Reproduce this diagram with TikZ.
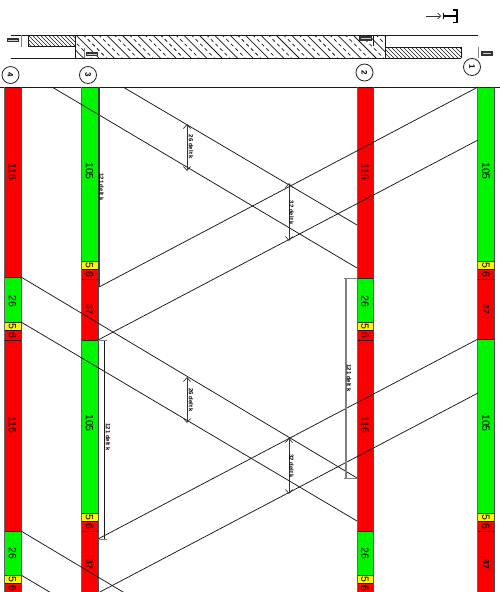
\documentclass[tikz,border=0pt]{standalone}
\usepackage{fontspec}
\setmainfont{Liberation Sans}
\usetikzlibrary{arrows.meta}
\definecolor{segred}{RGB}{250,0,0}
\definecolor{seggreen}{RGB}{0,245,0}
\definecolor{segyellow}{RGB}{250,245,0}
\tikzset{
  num/.style={rotate=-90,inner sep=0pt,font=\fontsize{10.5}{11}\selectfont,text=black},
  smallnum/.style={rotate=-90,inner sep=0pt,font=\fontsize{8.5}{9}\selectfont\bfseries,text=black},
  dimtext/.style={rotate=-90,inner sep=0pt,font=\fontsize{6}{7}\selectfont\bfseries,text=black},
  circ/.style={circle,draw=black!85,line width=0.8pt,minimum size=17pt,inner sep=0pt,rotate=-90,font=\fontsize{8}{9}\selectfont\bfseries},
  tie/.style={draw=black!90,line width=0.75pt},
  dimline/.style={draw=black!80,line width=0.8pt,{Straight Barb[length=4pt,width=7pt,line width=0.7pt]}-{Straight Barb[length=4pt,width=7pt,line width=0.7pt]}},
  extline/.style={draw=black!50,line width=1pt},
  longdim/.style={draw=black!50,line width=1.1pt},
  outline/.style={draw=black!90,line width=0.9pt},
  wide/.style={draw=black!90,line width=0.75pt},
  widedash/.style={draw=black!90,line width=0.75pt,dash pattern=on 3.5pt off 3pt},
  fine/.style={draw=black!90,line width=0.7pt}
}
\newcommand{\seg}[5]{% x1,x2,y1,y2,colour
  \fill[#5] (#1,#3) rectangle (#2,#4);
  \draw[black!75!#5,line width=0.8pt] (#1,#3) -- (#2,#3) (#1,#4) -- (#2,#4);
}
\newcommand{\col}[2]{% side edges
  \draw[black!60,line width=0.9pt] (#1,87) -- (#1,592);
  \draw[black!70,line width=0.9pt] (#2,87) -- (#2,592);
}
\newcommand{\tagbox}[3]{% x1,x2,y centre
  \fill[black!80] (#1,#3-2.2) rectangle (#2,#3+2.2);
  \fill[black!20] (#1+1.5,#3-0.5) rectangle (#2-1.5,#3+0.5);
}
\begin{document}
\begin{tikzpicture}[x=1pt,y=-1pt]
\clip (0,0) rectangle (500,592);
\fill[white] (0,0) rectangle (500,592);

% ---- plan strip
\begin{scope}
  \clip (75.5,35) rectangle (385,58);
  \foreach \i in {0,...,48} {
    \pgfmathsetmacro{\xa}{40+\i*7.7}
    \ifodd\i
      \draw[widedash] (\xa,30) -- ++(35,35);
    \else
      \draw[wide] (\xa,30) -- ++(35,35);
    \fi
  }
\end{scope}
\begin{scope}
  \clip (28,35) rectangle (75.5,46.5);
  \foreach \i in {0,...,18} { \draw[fine] (15+\i*4,30) -- ++(20,20); }
\end{scope}
\begin{scope}
  \clip (385,47) rectangle (461,58);
  \foreach \i in {0,...,25} { \draw[fine] (370+\i*4,42) -- ++(20,20); }
\end{scope}
\draw[outline] (11,35) -- (478,35);
\draw[outline] (11,58) -- (461,58);
\draw[outline] (28,35) -- (28,46.5) -- (75.5,46.5);
\draw[outline] (385,47) -- (461,47) -- (461,58);
\draw[outline] (75.5,35) -- (75.5,58);
\draw[outline] (385,35) -- (385,58);
\draw[extline] (21,35) -- (21,47);
\draw[extline] (84,48) -- (84,58);
\draw[outline] (373,35) -- (373,46);
\draw[extline] (478,47) -- (478,58);
\tagbox{6.5}{19}{40}
\tagbox{85.5}{98}{54}
\tagbox{359}{372}{38.5}
\tagbox{481}{492.5}{53.5}

% section mark
\coordinate (secA) at (426,16);
\coordinate (secB) at (441,16);
\coordinate (secC) at (443,16);
\coordinate (secD) at (457,16);
\draw[black!80,line width=0.7pt,-{Straight Barb[length=3pt,width=6pt]}] (secA) -- (secB);
\draw[black,line width=1.5pt] (secC) -- (secD);
\draw[black,line width=0.7pt] (443,13) -- (443,19);
\draw[black,line width=1.1pt] (453,10) -- (457,10) -- (457,22.5) -- (453,22.5);

% ---- circles
\node[circ] (c4) at (10.5,75) {4};
\node[circ] (c3) at (88,75) {3};
\node[circ] (c2) at (364.5,72.5) {2};
\node[circ] (c1) at (472,67) {1};

% ---- top line of elevation
\draw[black!90,line width=0.7pt] (0,87) -- (500,87);

% ---- column 4
\seg{4}{21}{87}{277}{segred}
\seg{4}{21}{277}{322}{seggreen}
\seg{4}{21}{322}{330}{segyellow}
\seg{4}{21}{330}{340}{segred}
\seg{4}{21}{340}{531}{segred}
\seg{4}{21}{531}{575}{seggreen}
\seg{4}{21}{575}{583}{segyellow}
\seg{4}{21}{583}{593}{segred}
% ---- column 3
\seg{81}{98}{87}{261}{seggreen}
\seg{81}{98}{261}{269}{segyellow}
\seg{81}{98}{269}{279}{segred}
\seg{81}{98}{279}{340}{segred}
\seg{81}{98}{340}{513}{seggreen}
\seg{81}{98}{513}{521}{segyellow}
\seg{81}{98}{521}{531}{segred}
\seg{81}{98}{531}{593}{segred}
% ---- column 2
\seg{357}{373.5}{87}{278}{segred}
\seg{357}{373.5}{278}{322}{seggreen}
\seg{357}{373.5}{322}{330}{segyellow}
\seg{357}{373.5}{330}{340}{segred}
\seg{357}{373.5}{340}{531}{segred}
\seg{357}{373.5}{531}{575}{seggreen}
\seg{357}{373.5}{575}{583}{segyellow}
\seg{357}{373.5}{583}{593}{segred}
% ---- column 1
\seg{477.5}{494.5}{87}{261}{seggreen}
\seg{477.5}{494.5}{261}{269}{segyellow}
\seg{477.5}{494.5}{269}{279}{segred}
\seg{477.5}{494.5}{279}{339}{segred}
\seg{477.5}{494.5}{339}{513}{seggreen}
\seg{477.5}{494.5}{513}{521}{segyellow}
\seg{477.5}{494.5}{521}{531}{segred}
\seg{477.5}{494.5}{531}{593}{segred}
% side edges
\col{4}{21}
\col{81}{98}
\col{357}{373.5}
\col{477.5}{494.5}

% ---- segment labels
\foreach \x in {12.5,365} {
  \node[num] (a\x) at (\x,172) {116};
  \node[num] (b\x) at (\x,301) {26};
  \node[num] (c\x) at (\x,326) {5};
  \node[num] (d\x) at (\x,335) {6};
  \node[num] (e\x) at (\x,425) {116};
  \node[num] (f\x) at (\x,553) {26};
  \node[num] (g\x) at (\x,579) {5};
  \node[num] (h\x) at (\x,588) {6};
}
\foreach \x in {89.5,486} {
  \node[num] (p\x) at (\x,171) {105};
  \node[num] (q\x) at (\x,265) {5};
  \node[num] (r\x) at (\x,274) {6};
  \node[smallnum] (s\x) at (\x,309) {37};
  \node[num] (t\x) at (\x,423) {105};
  \node[num] (u\x) at (\x,517) {5};
  \node[num] (v\x) at (\x,526) {6};
  \node[smallnum] (w\x) at (\x,564) {37};
}

% ---- ties, named ends
\coordinate (d1a) at (123,87);   \coordinate (d1b) at (357,225);
\coordinate (d2a) at (52,87);    \coordinate (d2b) at (357,268);
\coordinate (d3a) at (21,277);   \coordinate (d3b) at (357,478);
\coordinate (d4a) at (21,322);   \coordinate (d4b) at (357,521);
\coordinate (d5a) at (21,531);   \coordinate (d5b) at (357,732);
\coordinate (d6a) at (21,575);   \coordinate (d6b) at (357,775);
\coordinate (u1a) at (99,287);   \coordinate (u1b) at (478,87);
\coordinate (u2a) at (98,340);   \coordinate (u2b) at (478,140);
\coordinate (u3a) at (98,539);   \coordinate (u3b) at (478,339);
\coordinate (u4a) at (98,593);   \coordinate (u4b) at (478,393);
\draw[tie] (d1a) -- (d1b);
\draw[tie] (d2a) -- (d2b);
\draw[tie] (d3a) -- (d3b);
\draw[tie] (d4a) -- (d4b);
\draw[tie] (d5a) -- (d5b);
\draw[tie] (d6a) -- (d6b);
\draw[tie] (u1a) -- (u1b);
\draw[tie] (u2a) -- (u2b);
\draw[tie] (u3a) -- (u3b);
\draw[tie] (u4a) -- (u4b);

% ---- short dimensions
\coordinate (s1a) at (187,124); \coordinate (s1b) at (187,171);
\coordinate (s2a) at (289,183); \coordinate (s2b) at (289,241);
\coordinate (s3a) at (187,377); \coordinate (s3b) at (187,423);
\coordinate (s4a) at (289,438); \coordinate (s4b) at (289,494);
\draw[dimline] (s1a) -- (s1b);
\draw[dimline] (s2a) -- (s2b);
\draw[dimline] (s3a) -- (s3b);
\draw[dimline] (s4a) -- (s4b);
\node[dimtext] (l1) at (191,147) {26 delt k};
\node[dimtext] (l2) at (291.5,213) {32 delt k};
\node[dimtext] (l3) at (191,400) {26 delt k};
\node[dimtext] (l4) at (291.5,466) {32 delt k};

% ---- long dimensions
\coordinate (x1a) at (99,87);   \coordinate (x1b) at (99,287);
\coordinate (x2a) at (104.5,340); \coordinate (x2b) at (104.5,539);
\coordinate (x3a) at (346,278); \coordinate (x3b) at (346,478);
\draw[black!75,line width=1.1pt] (x1a) -- (x1b);
\draw[black!90,line width=0.8pt] (x2a) -- (x2b);
\draw[longdim] (x3a) -- (x3b);
\draw[extline] (98,340) -- (107,340);
\draw[extline] (98,539) -- (107,539);
\draw[extline] (344,278) -- (357,278);
\draw[extline] (344,478) -- (357,478);
\node[dimtext] (l5) at (101.5,187) {121 delt k};
\node[dimtext] (l6) at (108,437) {121 delt k};
\node[dimtext] (l7) at (349,378) {121 delt k};
\end{tikzpicture}
\end{document}
